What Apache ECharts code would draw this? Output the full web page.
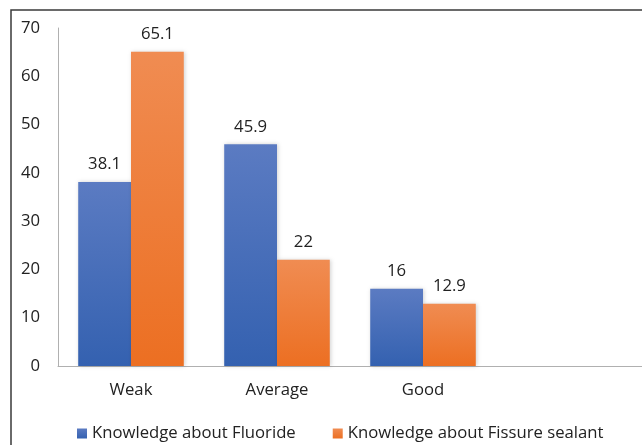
<!DOCTYPE html>
<html>
<head>
<meta charset="utf-8">
<script src="https://cdn.jsdelivr.net/npm/echarts@6/dist/echarts.min.js"></script>
<style>
  html, body { margin: 0; padding: 0; background: #fff; }
  #chart { width: 642px; height: 445px; }
</style>
</head>
<body>
<div id="chart"></div>
<script>
// Knowledge levels (fourth slot left empty on the category axis)
const categories = ['Weak', 'Average', 'Good', ''];
const fluoride = [38.1, 45.9, 16, null];
const sealant = [65.1, 22, 12.9, null];
const yTicks = { min: 0, max: 70, interval: 10 };

const FONT = '"Open Sans", "Noto Sans", sans-serif';
const FS = 16.7;

function grad(top, bottom) {
  return new echarts.graphic.LinearGradient(0, 0, 0, 1, [
    { offset: 0, color: top },
    { offset: 1, color: bottom }
  ]);
}

const chart = echarts.init(document.getElementById('chart'), null, { renderer: 'canvas' });

const labelStyle = {
  show: true,
  position: 'top',
  distance: 9,
  color: '#222',
  fontSize: FS,
  fontFamily: FONT
};

chart.setOption({
  backgroundColor: '#ffffff',
  animation: false,
  textStyle: { fontFamily: FONT },
  graphic: [{
    type: 'rect',
    shape: { x: 11, y: 10, width: 700, height: 500 },
    style: { fill: 'none', stroke: '#3a3a3a', lineWidth: 1.5 },
    z: -1
  }],
  grid: { left: 58, top: 28, right: -3, bottom: 79, containLabel: false },
  legend: {
    top: 425,
    left: 77,
    padding: 0,
    itemWidth: 10,
    itemHeight: 10,
    itemGap: 37,
    icon: 'rect',
    textStyle: { fontSize: FS, color: '#222', fontFamily: FONT },
    data: ['Knowledge about Fluoride', 'Knowledge about Fissure sealant']
  },
  xAxis: {
    type: 'category',
    data: categories,
    axisLine: { lineStyle: { color: '#b0b0b0', width: 1 } },
    axisTick: { show: false },
    axisLabel: { fontSize: FS, color: '#222', margin: 16, fontFamily: FONT }
  },
  yAxis: {
    type: 'value',
    min: yTicks.min,
    max: yTicks.max,
    interval: yTicks.interval,
    axisLine: { show: true, lineStyle: { color: '#b0b0b0', width: 1 } },
    axisTick: { show: false },
    splitLine: { show: false },
    axisLabel: { fontSize: FS, color: '#222', margin: 18, fontFamily: FONT }
  },
  series: [
    {
      name: 'Knowledge about Fluoride',
      type: 'bar',
      data: fluoride,
      barGap: '0%',
      barCategoryGap: '27.7%',
      itemStyle: {
        color: grad('#5b7bc2', '#3461b0'),
        shadowColor: 'rgba(0,0,0,0.18)',
        shadowBlur: 4,
        shadowOffsetX: 1,
        shadowOffsetY: 0
      },
      label: labelStyle
    },
    {
      name: 'Knowledge about Fissure sealant',
      type: 'bar',
      data: sealant,
      itemStyle: {
        color: grad('#f08c52', '#ec6f22'),
        shadowColor: 'rgba(0,0,0,0.18)',
        shadowBlur: 4,
        shadowOffsetX: 1,
        shadowOffsetY: 0
      },
      label: labelStyle
    }
  ]
});
</script>
</body>
</html>
